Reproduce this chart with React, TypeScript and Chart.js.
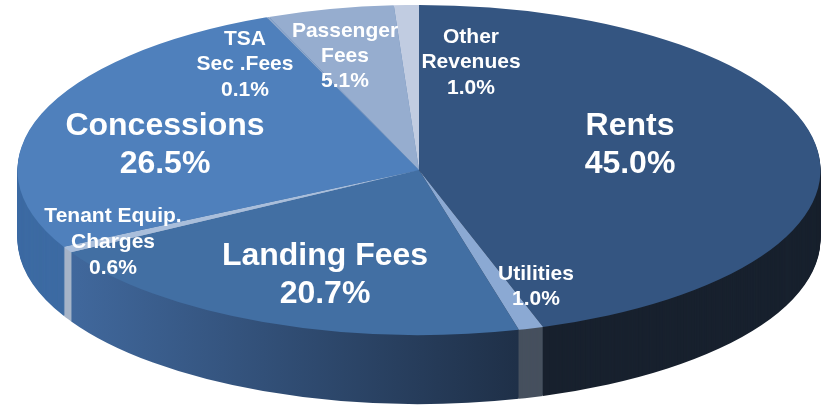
import React, { useEffect, useRef } from "react";
import { Chart, registerables } from "chart.js";

Chart.register(...registerables);

const categories = ["Rents", "Utilities", "Landing Fees", "Tenant Equip.\nCharges", "Concessions", "TSA\nSec .Fees", "Passenger\nFees", "Other\nRevenues"];
const shares = [45.0, 1.0, 20.7, 0.6, 26.5, 0.1, 5.1, 1.0];

const topColors = ["#345581", "#8ba9d3", "#426fa3", "#a9bedb", "#4f80bc", "#8fa8cc", "#96adcf", "#c1cce1"];
const sideStops: string[][] = [
  ["#18212e", "#18212e"],
  ["#46505e", "#46505e"],
  ["#1f3048", "#41699e"],
  ["#a6b4c8", "#a6b4c8"],
  ["#3d6ba3", "#3d6ba3"],
  ["#3d6ba3", "#3d6ba3"],
  ["#3d6ba3", "#3d6ba3"],
  ["#3d6ba3", "#3d6ba3"],
];

// Placement of the drawing and of the labels on the page.
const ELLIPSE = { cx: 419, cy: 170, rx: 401.5, ry: 165, depth: 69 };
const SIDE_SPAN: ([number, number] | null)[] = [null, null, [517, 64], null, null, null, null, null];
const labelAnchors = [
  { x: 630, y: 126, size: 32, lead: 38 },
  { x: 536, y: 274, size: 21, lead: 25.5 },
  { x: 325, y: 256, size: 32, lead: 38 },
  { x: 113, y: 216, size: 21, lead: 26 },
  { x: 165, y: 126, size: 32, lead: 38 },
  { x: 245, y: 39, size: 21, lead: 25.5 },
  { x: 345, y: 31, size: 21, lead: 25 },
  { x: 471, y: 37, size: 21, lead: 25.5 },
];

const applyEllipse = (chart: any, ctx: CanvasRenderingContext2D, dy: number) => {
  const arc: any = chart.getDatasetMeta(0).data[0];
  const R = arc.outerRadius;
  ctx.translate(ELLIPSE.cx, ELLIPSE.cy + dy);
  ctx.scale(ELLIPSE.rx / R, ELLIPSE.ry / R);
  ctx.translate(-arc.x, -arc.y);
};

const pie3d = {
  id: "pie3d",
  beforeDatasetDraw(chart: any) {
    const ctx: CanvasRenderingContext2D = chart.ctx;
    const arcs: any[] = chart.getDatasetMeta(0).data;
    const R = arcs[0].outerRadius;
    const toLocal = (px: number) => arcs[0].x + ((px - ELLIPSE.cx) * R) / ELLIPSE.rx;
    const sideArcs = arcs.map((el, i) => {
      const span = SIDE_SPAN[i];
      let fill: any = sideStops[i][0];
      if (span) {
        const g = ctx.createLinearGradient(toLocal(span[0]), 0, toLocal(span[1]), 0);
        g.addColorStop(0, sideStops[i][0]);
        g.addColorStop(1, sideStops[i][1]);
        fill = g;
      }
      const clone = Object.create(el);
      clone.options = { ...el.options, backgroundColor: fill };
      return clone;
    });
    for (let d = ELLIPSE.depth; d >= 1; d--) {
      ctx.save();
      applyEllipse(chart, ctx, d);
      sideArcs.forEach((a) => a.draw(ctx));
      ctx.restore();
    }
    ctx.save();
    applyEllipse(chart, ctx, 0);
  },
  afterDatasetDraw(chart: any) {
    chart.ctx.restore();
  },
  afterDraw(chart: any) {
    const ctx: CanvasRenderingContext2D = chart.ctx;
    ctx.save();
    ctx.fillStyle = "#ffffff";
    ctx.textAlign = "center";
    ctx.textBaseline = "middle";
    categories.forEach((name, i) => {
      const a = labelAnchors[i];
      ctx.font = `bold ${a.size}px "Liberation Sans"`;
      const lines = [...name.split("\n"), `${shares[i].toFixed(1)}%`];
      lines.forEach((t, j) => ctx.fillText(t, a.x, a.y + j * a.lead));
    });
    ctx.restore();
  },
};

export default function App() {
  const ref = useRef<HTMLCanvasElement>(null);
  useEffect(() => {
    const chart = new Chart(ref.current!, {
      type: "pie",
      data: {
        labels: categories.map((c) => c.replace("\n", " ")),
        datasets: [{ data: shares, backgroundColor: topColors, borderWidth: 0, clip: false } as any],
      },
      options: {
        responsive: false,
        animation: false,
        plugins: { legend: { display: false }, tooltip: { enabled: false } },
      },
      plugins: [pie3d as any],
    });
    return () => chart.destroy();
  }, []);
  return (
    <div style={{ position: "absolute", left: 0, top: 0, width: 825, height: 405, background: "#fff" }}>
      <canvas ref={ref} width={825} height={405} style={{ display: "block" }} />
    </div>
  );
}
